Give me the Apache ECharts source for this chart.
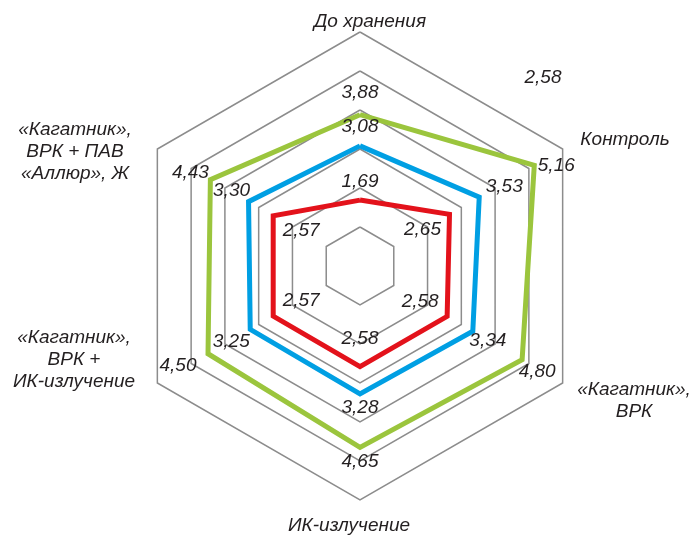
<!DOCTYPE html>
<html>
<head>
<meta charset="utf-8">
<script src="https://cdn.jsdelivr.net/npm/echarts@6/dist/echarts.min.js"></script>
<style>
  html, body { margin: 0; padding: 0; background: #fff; }
  #main { width: 694px; height: 540px; }
</style>
</head>
<body>
<div id="main"></div>
<script>
// categories go counterclockwise from the top, the way echarts radar lays them out
var categories = [
  'До хранения',
  '«Кагатник»,\nВРК + ПАВ\n«Аллюр», Ж',
  '«Кагатник»,\nВРК +\nИК-излучение',
  'ИК-излучение',
  '«Кагатник»,\nВРК',
  'Контроль'
];
var redValues = [1.69, 2.57, 2.57, 2.58, 2.58, 2.65];
var blueValues = [3.08, 3.30, 3.25, 3.28, 3.34, 3.53];
var greenValues = [3.88, 4.43, 4.50, 4.65, 4.80, 5.16];
var strayLabel = '2,58';
var axisMax = 6;

// layout: where each category name sits, and how each value label is nudged off its vertex
var namePos = [[370, 22], [75, 152], [74, 360], [349, 526], [634, 401], [625, 140]];
var labelShift = [
  [[0, -18], [28, 15], [28, -15], [0, -28], [-27, -15], [-27, 15]],
  [[0, -19], [-17, -11], [-19, 12], [0, 14], [15, 10], [25, -10]],
  [[0, -22], [-20, -7], [-30, 12], [0, 14], [15, 12], [22, 0]]
];
var colors = ['#e3121b', '#009fe3', '#9bc53d'];
var font = 'italic 19px "Liberation Sans", Arial, sans-serif';

function fmt(v) {
  return v.toFixed(2).replace('.', ',');
}

function makeLabel(si) {
  var rich = {};
  labelShift[si].forEach(function (s, i) {
    var dx = s[0], dy = s[1];
    rich['p' + i] = {
      fontFamily: '"Liberation Sans", Arial, sans-serif',
      fontStyle: 'italic',
      fontSize: 19,
      color: '#231f20',
      padding: [Math.max(2 * dy, 0), Math.max(-2 * dx, 0), Math.max(-2 * dy, 0), Math.max(2 * dx, 0)]
    };
  });
  return {
    show: true,
    position: 'inside',
    formatter: function (p) {
      return '{p' + p.dimensionIndex + '|' + fmt(p.value) + '}';
    },
    rich: rich
  };
}

var seriesValues = [redValues, blueValues, greenValues];
var dataItems = seriesValues.map(function (vals, si) {
  return {
    value: vals,
    symbol: 'circle',
    symbolSize: 1,
    itemStyle: { color: colors[si] },
    lineStyle: { color: colors[si], width: 5, join: 'miter' },
    label: makeLabel(si)
  };
});

var graphics = categories.map(function (name, i) {
  return {
    type: 'text',
    x: namePos[i][0],
    y: namePos[i][1],
    style: {
      text: name,
      font: font,
      fill: '#231f20',
      lineHeight: 22,
      align: 'center',
      verticalAlign: 'middle',
      textAlign: 'center',
      textVerticalAlign: 'middle'
    }
  };
});
graphics.push({
  type: 'text',
  x: 543,
  y: 78,
  style: {
    text: strayLabel,
    font: font,
    fill: '#231f20',
    align: 'center',
    verticalAlign: 'middle',
    textAlign: 'center',
    textVerticalAlign: 'middle'
  }
});

var myChart = echarts.init(document.getElementById('main'));
var option = {
  animation: false,
  radar: {
    center: [360, 266],
    radius: 234,
    startAngle: 90,
    splitNumber: 6,
    shape: 'polygon',
    indicator: categories.map(function (c) {
      return { name: c, min: 0, max: axisMax };
    }),
    axisName: { show: false },
    axisLine: { show: false },
    axisTick: { show: false },
    axisLabel: { show: false },
    splitArea: { show: false },
    splitLine: { lineStyle: { color: '#8c8c8c', width: 1.5 } }
  },
  graphic: graphics,
  series: [{
    type: 'radar',
    data: dataItems
  }]
};
myChart.setOption(option);
</script>
</body>
</html>
